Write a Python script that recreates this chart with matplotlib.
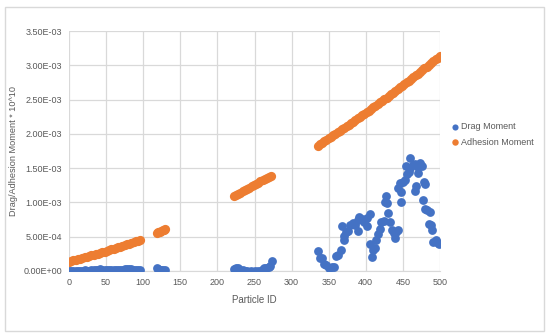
import matplotlib.pyplot as plt
import numpy as np
from matplotlib.patches import Rectangle
from matplotlib.ticker import FuncFormatter, MultipleLocator

plt.rcParams['font.family'] = ['Liberation Sans', 'DejaVu Sans']

# Adhesion moment (x 1e-3)
adh_id = [0, 3, 6, 9, 12, 15, 18, 21, 24, 27, 30, 33, 36, 39, 42, 45, 48, 51, 54, 57,
          60, 63, 66, 69, 72, 75, 78, 81, 84, 87, 90, 93, 95,
          118, 120, 122, 124, 126, 128, 130,
          222, 225, 228, 231, 234, 237, 240, 243, 246, 249, 252, 255, 258, 261, 264,
          267, 270, 272,
          335, 338, 341, 344, 347, 350, 353, 356, 359, 362, 365, 368, 371, 374, 377,
          380, 383, 386, 389, 392, 395, 398, 401, 404, 407, 410, 413, 416, 419, 422,
          425, 428, 431, 434, 437, 440, 443, 446, 449, 452, 455, 458, 461, 464, 467,
          470, 473, 476, 479, 482, 485, 488, 491, 494, 497, 500]
adh_val = [0.135, 0.144, 0.153, 0.162, 0.171, 0.180, 0.189, 0.198, 0.207, 0.216,
           0.226, 0.235, 0.245, 0.254, 0.264, 0.274, 0.284, 0.294, 0.304, 0.314,
           0.324, 0.335, 0.345, 0.356, 0.366, 0.377, 0.388, 0.399, 0.410, 0.421,
           0.432, 0.443, 0.450,
           0.558, 0.566, 0.575, 0.583, 0.591, 0.600, 0.608,
           1.090, 1.108, 1.126, 1.144, 1.162, 1.180, 1.198, 1.216, 1.234, 1.252,
           1.270, 1.288, 1.306, 1.324, 1.342, 1.360, 1.378, 1.390,
           1.830, 1.851, 1.872, 1.894, 1.915, 1.936, 1.958, 1.980, 2.001, 2.023,
           2.045, 2.067, 2.089, 2.112, 2.134, 2.157, 2.179, 2.202, 2.225, 2.248,
           2.270, 2.294, 2.317, 2.340, 2.364, 2.387, 2.411, 2.434, 2.458, 2.482,
           2.506, 2.530, 2.554, 2.579, 2.603, 2.628, 2.652, 2.677, 2.702, 2.727,
           2.752, 2.777, 2.802, 2.828, 2.853, 2.879, 2.904, 2.930, 2.956, 2.982,
           3.008, 3.034, 3.061, 3.087, 3.113, 3.140]

# Drag moment (x 1e-3)
drag_id = [0, 3, 6, 9, 12, 15, 18, 21, 24, 27, 30, 33, 36, 39, 42, 45, 48, 51, 54, 57,
           60, 63, 66, 69, 72, 75, 78, 81, 84, 87, 90, 93, 95,
           118, 120, 122, 124, 126, 128, 130,
           222, 225, 228, 231, 234, 237, 240, 245, 250, 255, 260, 263, 266, 269, 271, 273,
           336, 338, 341, 343, 347, 351, 354, 357, 360, 363, 367, 368, 370, 371, 373,
           376, 379, 383, 386, 389, 390, 391, 395, 398, 401, 402, 405, 406, 408, 410,
           412, 414, 417, 419, 421, 424, 426, 427, 429, 430, 433, 435, 438, 439, 441,
           444, 444, 446, 447, 448, 450, 453, 454, 455, 458, 459, 460, 464, 466, 466,
           468, 471, 471, 473, 476, 477, 478, 480, 480, 483, 485, 486, 488, 489, 491,
           494, 497, 499]
drag_val = [0.003, 0.002, 0.004, 0.006, 0.005, 0.004, 0.007, 0.008, 0.006, 0.005,
            0.010, 0.012, 0.010, 0.020, 0.025, 0.015, 0.012, 0.010, 0.016, 0.018,
            0.012, 0.014, 0.016, 0.010, 0.008, 0.022, 0.028, 0.026, 0.022, 0.018,
            0.010, 0.012, 0.015,
            0.040, 0.030, 0.015, 0.008, 0.010, 0.005, 0.015,
            0.035, 0.040, 0.040, 0.020, 0.010, 0.005, 0.003, 0.003, 0.005, 0.005,
            0.010, 0.040, 0.050, 0.055, 0.070, 0.150,
            0.29, 0.19, 0.19, 0.10, 0.09, 0.05, 0.06, 0.06, 0.22, 0.24, 0.31, 0.66,
            0.45, 0.51, 0.57, 0.59, 0.67, 0.70, 0.67, 0.59, 0.74, 0.79, 0.76, 0.71,
            0.65, 0.78, 0.83, 0.39, 0.21, 0.31, 0.34, 0.45, 0.54, 0.61, 0.72, 0.73,
            1.01, 1.09, 0.99, 0.84, 0.72, 0.60, 0.56, 0.48, 0.57, 0.60, 1.21, 1.28,
            1.00, 1.15, 1.30, 1.32, 1.53, 1.41, 1.44, 1.65, 1.50, 1.55, 1.16, 1.56,
            1.24, 1.43, 1.52, 1.58, 1.53, 1.04, 1.30, 1.27, 0.90, 0.89, 0.69, 0.86,
            0.67, 0.60, 0.43, 0.45, 0.41, 0.39]

blue = '#4472C4'
orange = '#ED7D31'
grey = '#595959'

fig = plt.figure(figsize=(5.5, 3.36), dpi=100)
ax = fig.add_axes([0.1255, 0.1935, 0.6745, 0.7142])

ax.scatter(drag_id, np.array(drag_val) * 1e-3, s=40, color=blue, label='Drag Moment',
           zorder=3, linewidths=0)
ax.scatter(adh_id, np.array(adh_val) * 1e-3, s=44, color=orange, label='Adhesion Moment',
           zorder=3, linewidths=0)

ax.set_xlim(0, 500)
ax.set_ylim(0, 3.5e-3)
ax.xaxis.set_major_locator(MultipleLocator(50))
ax.yaxis.set_major_locator(MultipleLocator(5e-4))
ax.yaxis.set_major_formatter(FuncFormatter(lambda v, p: f'{v:.2E}'))
ax.grid(True, color='#D9D9D9', linewidth=0.9, zorder=0)
ax.set_axisbelow(True)
for s in ['top', 'right', 'left']:
    ax.spines[s].set_visible(False)
ax.spines['bottom'].set_color('#D9D9D9')
ax.tick_params(length=0, labelsize=6.5, colors=grey, pad=5)

ax.set_xlabel('Particle ID', fontsize=7, color=grey, labelpad=6)
ax.set_ylabel('Drag/Adhesion Moment * 10^10', fontsize=6.6, color=grey, labelpad=4)

fig.legend(loc='center left', bbox_to_anchor=(0.805, 0.60), frameon=False, fontsize=6.5,
           labelcolor=grey, handletextpad=0.1, markerscale=0.7, labelspacing=0.7,
           handlelength=1.0)

fig.patches.append(Rectangle((0.009, 0.015), 0.98, 0.965, transform=fig.transFigure,
                             fill=False, edgecolor='#D9D9D9', linewidth=1.0))

fig.savefig('out.png', dpi=100)
